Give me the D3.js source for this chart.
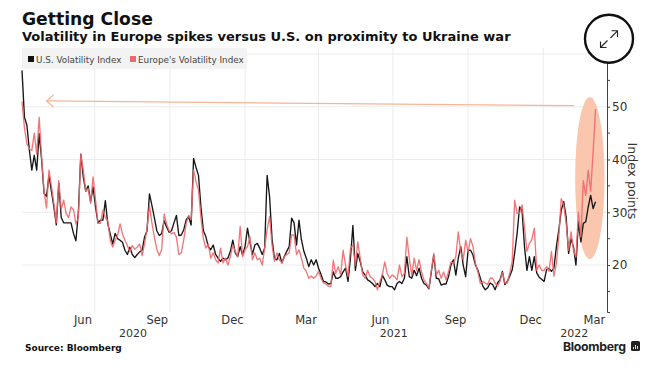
<!DOCTYPE html>
<html><head><meta charset="utf-8">
<script src="https://cdnjs.cloudflare.com/ajax/libs/d3/7.8.5/d3.min.js"></script>
<style>html,body{margin:0;padding:0;background:#fff}svg{display:block}text{font-family:"DejaVu Sans",sans-serif}</style>
</head><body><svg id="c" width="653" height="378"></svg>
<script>
// Sample every 3 calendar days from the start date
const startDate = "2020-04-03";
const stepDays = 3;
const usVix = [
56.9,48,46.5,41.8,38,40.8,38,44.9,40,33.6,33,37,34,31,27.6,35.5,29,28,28,28,28,26,24.6,30,41,36.7,34,35,32,34.8,31,28,28.5,28.5,32.2,
27.8,25.9,24,26,25,24.7,24.3,22.8,22,23.4,22,21.4,22,22.5,22.8,25.3,26.5,33.5,31.3,29,26.5,25.6,26,28.4,27.2,26.2,26.5,28,29.4,25.6,
25.7,26.7,28.6,29.2,27.6,40.2,38.5,37,31,26.5,25.4,23.5,22.9,23.8,22,21.3,20.7,21.3,21,21.3,22.6,24.7,22.3,21.6,23.5,21.9,23.5,27,24.3,22,23.8,
24.1,23.2,22,23.2,37,33,25,21.2,21,22.2,20.4,21.6,22.6,23.5,28.9,28,23.8,28.5,24.8,22.6,21.3,19.7,21,20,21,19.4,18.2,16.9,16.8,16.4,
16.5,18.7,17.5,17.5,17.8,18.7,19.4,16.9,21.3,27.5,19,22.2,20.6,18.7,18.1,17.2,16.9,16.5,15.9,16.5,15.9,18.1,17.2,16.2,15.9,15.9,15.3,16.5,16.9,16.5,17.5,
21.6,17.8,17.5,19,18,19.4,17.5,16.5,16.2,15.5,18.7,21.9,17.5,17.4,16.2,16.4,16.4,17.8,20,21,18.1,21.3,23.5,20,17.8,22.8,22.8,21.9,20,19,17.5,
16,15.3,15.7,16.6,16.3,15.3,16.6,17.2,18.8,16.3,16.9,17.9,19.1,22.3,26,31,30.4,23.5,19,21.6,19,21.6,18.5,17.7,17.3,16.9,19.1,19.4,18.8,19.4,
23.4,26.6,30.4,32,29.1,22.2,25,23.4,20,28.2,24.4,27.9,28.2,31,33.2,30.7,32
];
const europeVol = [
51,46,43,42,41.7,45,41,48,40.5,34,30.8,38,35,31.7,28,36,30.5,32.3,29.8,29,31,30.5,27.8,29,41,38,34,34.5,31.7,36.7,32.3,27.9,27.9,30.4,29,
28.4,24.7,23.4,24.7,25.6,27.8,25.9,24.7,23.7,22.5,23.7,23,23.4,24,21.8,24,26.9,31.3,28,25.3,23,21.8,23,29.7,27.8,26.5,25.9,26.2,25.3,22,
22.3,24.8,27.9,29.4,28.6,38,35.8,34.2,29,25,23.2,24,21.3,22.3,21,20.4,23.2,20.4,21.3,20,21.6,23.8,22.6,21.6,27.3,21.6,22.9,23.5,25.4,21,22.3,
21,21.3,20,23.2,26.7,29.2,23.8,20.7,22.3,21,20.4,21.6,22,22.3,25.7,25.7,22,22.9,21.3,19.4,18.8,17.5,17.9,17.5,17.9,18.8,17.5,16.6,16.4,16,
15.9,20.9,18.4,19.7,18.1,22.8,20,17.8,23.1,23.8,20,24.4,21.3,18.1,17.5,19,17.8,17.5,16.9,15.3,16.9,18.1,20.6,18.4,17.5,18.1,17.8,17.2,20,17.8,18.4,
25.3,21.3,18.1,21.3,19,21,18.7,17.2,16.5,15.6,19,22.2,18.1,19,17.5,18.7,17.2,18.7,20.6,20.3,21.6,26.3,22.5,21,24.7,22.5,25,23.5,20.3,18.7,16.5,
16.9,16.6,16.3,17.5,17.5,16.6,16,16.9,18.6,16.6,16.6,18.5,20.7,32.3,29.8,29.8,31.4,27.3,22.6,24.1,24.8,27,19,20,19,19,19.7,18.8,22.6,17.9,
20.3,25.3,32.6,31.3,27.9,22.8,26.3,22.8,21.5,30,25.3,36,33.2,38,34,41.4,49.6
];
const seriesNames = ["U.S. Volatility Index", "Europe's Volatility Index"];
const yTicksMajor = [20, 30, 40, 50];
const yTicksMinor = [15, 25, 35, 45, 55];
const gridDates = ["2020-07-01","2020-10-01","2021-01-01","2021-04-01","2021-07-01","2021-10-01","2022-01-01"];
const monthLabelDates = ["2020-06-16","2020-09-15","2020-12-16","2021-03-16","2021-06-15","2021-09-15","2021-12-16","2022-03-04"];
const monthLabels = ["Jun","Sep","Dec","Mar","Jun","Sep","Dec","Mar"];
const yearLabelDates = ["2020-08-17","2021-07-02","2022-02-08"];
const yearLabels = ["2020","2021","2022"];
// Annotation, in data units
const arrowFrom = {date:"2022-02-08", value:50.2};
const arrowTo = {date:"2020-05-03", value:51.1};
const ellipseInfo = {date:"2022-02-27", value:36.5, rDays:18, rValue:15.35};

const D = s => { const m = s.split("-").map(Number); return new Date(Date.UTC(m[0], m[1]-1, m[2])); };
const start = D(startDate);
const dateAt = i => d3.utcDay.offset(start, i*stepDays);

const x = d3.scaleUtc().domain([start, D("2022-03-20")]).range([22, 607]);
const y = d3.scaleLinear().domain([60, 11.1]).range([54, 312]);
const svg = d3.select("#c");

const gridColor = "#ececec";
// grid
svg.append("g").selectAll("line").data(yTicksMajor.concat([60])).join("line")
  .attr("x1",22).attr("x2",607).attr("y1",d=>y(d)).attr("y2",d=>y(d))
  .attr("stroke",gridColor).attr("stroke-width",1);
svg.append("g").selectAll("line").data(gridDates).join("line")
  .attr("x1",d=>x(D(d))).attr("x2",d=>x(D(d))).attr("y1",48).attr("y2",312)
  .attr("stroke",gridColor).attr("stroke-width",1);

// annotation ellipse
const ex = x(D(ellipseInfo.date)), ey = y(ellipseInfo.value);
svg.append("ellipse").attr("cx",ex).attr("cy",ey)
  .attr("rx",x(d3.utcDay.offset(D(ellipseInfo.date),ellipseInfo.rDays))-ex)
  .attr("ry",y(ellipseInfo.value-ellipseInfo.rValue)-ey)
  .attr("fill","#fbc6ae");

// lines
const line = d3.line().x((d,i)=>x(dateAt(i))).y(d=>y(d));
svg.append("path").datum(usVix).attr("d",line).attr("fill","none").attr("stroke","#161616").attr("stroke-width",1.35).attr("stroke-linejoin","round");
svg.append("path").datum(europeVol).attr("d",line).attr("fill","none").attr("stroke","#f0686c").attr("stroke-opacity",0.9).attr("stroke-width",1.35).attr("stroke-linejoin","round");

// arrow
const ax1 = x(D(arrowFrom.date)), ay1 = y(arrowFrom.value), ax2 = x(D(arrowTo.date)), ay2 = y(arrowTo.value);
svg.append("line").attr("x1",ax1).attr("y1",ay1).attr("x2",ax2).attr("y2",ay2).attr("stroke","#f6b596").attr("stroke-width",1.2);
svg.append("path").attr("d",d3.line()([[ax2+7,ay2-6],[ax2,ay2],[ax2+7,ay2+6]])).attr("fill","none").attr("stroke","#f6b596").attr("stroke-width",1.2);

// y axis
const yAxis = d3.axisRight(y).tickValues(yTicksMajor).tickSize(3).tickPadding(2);
const gy = svg.append("g").attr("transform","translate(607,0)").call(yAxis);
gy.select(".domain").attr("stroke","#444").attr("stroke-width",1);
gy.selectAll(".tick line").attr("stroke","#444");
gy.selectAll("text").attr("font-size",12).attr("fill","#333").style("font-family",'"DejaVu Sans",sans-serif');
svg.append("g").selectAll("line").data(yTicksMinor).join("line")
  .attr("x1",607).attr("x2",610).attr("y1",d=>y(d)).attr("y2",d=>y(d)).attr("stroke","#444");

// x labels
const xAxis = d3.axisBottom(x).tickValues(monthLabelDates.map(D)).tickSize(0).tickPadding(3)
  .tickFormat((d,i)=>monthLabels[i]);
const gx = svg.append("g").attr("transform","translate(0,313)").call(xAxis);
gx.select(".domain").remove();
gx.selectAll("text").attr("font-size",11.5).attr("fill","#333").style("font-family",'"DejaVu Sans",sans-serif');
svg.append("g").selectAll("text").data(yearLabels).join("text")
  .attr("x",(d,i)=>x(D(yearLabelDates[i]))).attr("y",337).attr("text-anchor","middle")
  .attr("font-size",11).attr("fill","#333").text(d=>d);

// legend
svg.append("rect").attr("x",22).attr("y",48).attr("width",225).attr("height",21).attr("fill","#f3f3f3");
svg.append("rect").attr("x",28).attr("y",56).attr("width",6).attr("height",6).attr("fill","#111");
svg.append("text").attr("x",36).attr("y",62.5).attr("font-size",8.8).attr("fill","#444").text(seriesNames[0]);
svg.append("rect").attr("x",130).attr("y",56).attr("width",6).attr("height",6).attr("fill","#f0686c");
svg.append("text").attr("x",138).attr("y",62.5).attr("font-size",8.8).attr("fill","#444").text(seriesNames[1]);

// titles
svg.append("text").attr("x",22).attr("y",25).attr("font-size",17.2).attr("font-weight",700).attr("fill","#111").text("Getting Close");
svg.append("text").attr("x",22).attr("y",41).attr("font-size",13).attr("font-weight",700).attr("fill","#111").text("Volatility in Europe spikes versus U.S. on proximity to Ukraine war");
svg.append("text").attr("x",25).attr("y",351).attr("font-size",9).attr("font-weight",700).attr("fill","#111").text("Source: Bloomberg");

// axis title
svg.append("text").attr("transform","translate(628,181) rotate(90)").attr("text-anchor","middle")
  .attr("font-size",12.5).attr("fill","#333").text("Index points");

// Bloomberg mark
svg.append("text").attr("x",563).attr("y",351).attr("font-size",12.3).attr("font-weight",700).attr("letter-spacing",-0.3).style("font-family","Inter, sans-serif").attr("fill","#222").text("Bloomberg");
svg.append("rect").attr("x",631).attr("y",341).attr("width",9).attr("height",10).attr("rx",1.5).attr("fill","#222");
[[633,347,1,2],[635,345,1,4],[637,346,1,3]].forEach(b=>svg.append("rect").attr("x",b[0]).attr("y",b[1]).attr("width",b[2]).attr("height",b[3]).attr("fill","#ddd"));

// expand icon
svg.append("circle").attr("cx",609).attr("cy",38.7).attr("r",24).attr("fill","#fff").attr("stroke","#111").attr("stroke-width",2.4);
const ic = svg.append("g").attr("fill","none").attr("stroke","#222").attr("stroke-width",1.1);
ic.append("path").attr("d","M600.5 47.5L607.5 40.5M600.5 41.5V47.5H606.5");
ic.append("path").attr("d","M610.5 38L617.5 30.8M611.5 30.8H617.5V37");
</script></body></html>
